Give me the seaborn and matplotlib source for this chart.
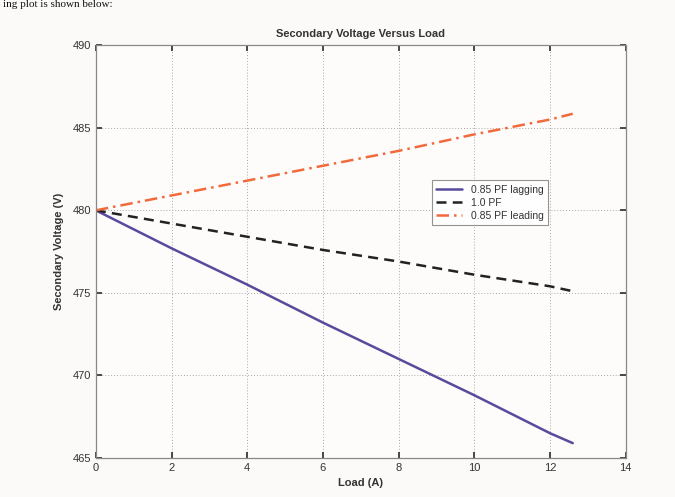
import matplotlib
matplotlib.use("Agg")
import matplotlib.pyplot as plt
import seaborn as sns
import pandas as pd

load = [0, 2, 4, 6, 8, 10, 12, 12.6]
lagging = [480.0, 477.7, 475.5, 473.2, 471.0, 468.8, 466.5, 465.9]
unity = [480.0, 479.2, 478.4, 477.6, 476.9, 476.1, 475.4, 475.1]
leading = [480.0, 480.9, 481.8, 482.7, 483.6, 484.6, 485.5, 485.85]
labels = ["0.85 PF lagging", "1.0 PF", "0.85 PF leading"]
xticks = [0, 2, 4, 6, 8, 10, 12, 14]
yticks = [465, 470, 475, 480, 485, 490]

sns.set_theme(style="white")
plt.rcParams['font.family'] = ['Liberation Sans', 'DejaVu Sans']

df = pd.concat([
    pd.DataFrame({"Load": load, "V": lagging, "Series": labels[0]}),
    pd.DataFrame({"Load": load, "V": unity, "Series": labels[1]}),
    pd.DataFrame({"Load": load, "V": leading, "Series": labels[2]}),
])

fig = plt.figure(figsize=(6.75, 4.97), dpi=100, facecolor="#fbfaf8")
ax = fig.add_axes([0.142, 0.0785, 0.785, 0.8305])
ax.set_facecolor("#fdfcfb")

palette = {labels[0]: "#5a4a9c", labels[1]: "#222222", labels[2]: "#f26a3c"}
styles = {labels[0]: "-", labels[1]: (0, (4, 2.5)), labels[2]: (0, (5, 2, 1, 2))}
for lab in labels:
    sub = df[df["Series"] == lab]
    sns.lineplot(data=sub, x="Load", y="V", ax=ax, color=palette[lab],
                 lw=1.8, label=lab)
for line, lab in zip(ax.get_lines(), labels):
    line.set_linestyle(styles[lab])

ax.set_xlim(0, 14)
ax.set_ylim(465, 490)
ax.set_xticks(xticks)
ax.set_yticks(yticks)
ax.grid(True, color="#aaaaaa", linestyle=(0, (1, 2)), linewidth=0.7)
ax.tick_params(direction="in", length=4, labelsize=8, colors="#333333",
               top=True, right=True, bottom=True, left=True)
for s in ax.spines.values():
    s.set_color("#888888")
    s.set_linewidth(0.9)

ax.set_xlabel("Load (A)", fontsize=8, fontweight="bold", color="#333333", labelpad=4)
ax.set_ylabel("Secondary Voltage (V)", fontsize=8, fontweight="bold", color="#333333", labelpad=6)
ax.set_title("Secondary Voltage Versus Load", fontsize=8, fontweight="bold", color="#333333", pad=6)

leg = ax.legend(loc="upper left", bbox_to_anchor=(0.625, 0.685), fontsize=7.5,
                frameon=True, fancybox=False, borderpad=0.4, handlelength=2.5,
                labelspacing=0.3)
leg.get_frame().set_edgecolor("#777777")
leg.get_frame().set_linewidth(0.8)
leg.get_frame().set_facecolor("white")
for t in leg.get_texts():
    t.set_color("#333333")

fig.text(0.005, 0.999, "ing plot is shown below:", fontsize=8, family="Liberation Serif",
         va="top", ha="left", color="#111111")

fig.savefig("out.png", dpi=100, facecolor=fig.get_facecolor())
